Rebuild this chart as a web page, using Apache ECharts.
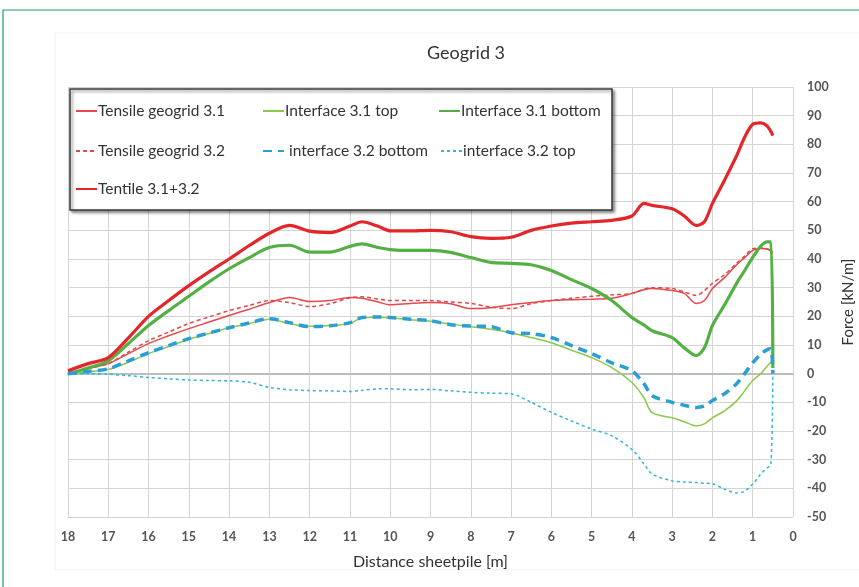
<!DOCTYPE html>
<html>
<head>
<meta charset="utf-8">
<script src="https://cdn.jsdelivr.net/npm/echarts@6/dist/echarts.min.js"></script>
<style>
html,body{margin:0;padding:0;background:#fff;}
#c{width:859px;height:587px;}
</style>
</head>
<body>
<div id="c"></div>
<script>
// Distance from sheetpile [m]
const distance = [18, 17.5, 17, 16.5, 16, 15.5, 15, 14.5, 14, 13.5, 13, 12.5, 12, 11.5, 11, 10.7, 10.3, 10, 9.5, 9, 8.5, 8, 7.5, 7, 6.5, 6, 5.5, 5, 4.5, 4, 3.7, 3.5, 3, 2.7, 2.4, 2.2, 2, 1.7, 1.4, 1.2, 1, 0.8, 0.65, 0.55, 0.5];

const tensile31 = [0, 1.8, 3.5, 7, 10.5, 13.2, 15.7, 18, 20.3, 22.5, 24.8, 26.6, 25.2, 25.5, 26.6, 26.3, 25, 24, 24.5, 24.8, 24.4, 22.7, 23, 24, 24.8, 25.5, 25.8, 26, 26.3, 28, 29.3, 29.7, 29, 28, 24.5, 25.5, 29.7, 33.5, 38, 40.5, 43, 43.7, 43.5, 42.8, 42];
const interface31top = [0, 0.7, 1.5, 4, 7, 9.5, 12, 14, 16, 17.5, 19, 17.5, 16.5, 16.8, 17.5, 19.5, 19.7, 19.5, 18.8, 18.3, 17.3, 16.4, 15.5, 14.3, 12.6, 10.8, 8.2, 5.6, 2.1, -3.1, -8.4, -13.6, -15.4, -16.8, -18.2, -17.5, -15.4, -13, -9.5, -6, -2.4, 0, 2.5, 4, 4.5];
const interface31bottom = [0, 2, 4.5, 10.5, 16.8, 22, 27, 32, 36.6, 40.5, 44, 44.8, 42.4, 42.4, 44.4, 45.3, 44, 43.3, 43, 43, 42.3, 40.5, 38.8, 38.5, 38, 36, 32.8, 29.7, 25.5, 19.6, 17, 15, 12.6, 9, 6.3, 9, 16.8, 24, 31.5, 36, 40.6, 44.5, 46, 46, 2];
const tensile32 = [0, 1.8, 3.5, 7.5, 11.5, 14.5, 17.5, 19.8, 22, 23.8, 25.5, 24.8, 23.4, 24.4, 26.5, 26.8, 26, 25.5, 25.5, 25.5, 25, 24.5, 23.2, 22.7, 24.4, 25.5, 26.3, 27, 27.5, 28, 29.5, 30, 29.7, 28.5, 27.3, 29, 31.5, 34.5, 38.5, 41, 43.6, 43.8, 43.6, 43, 42.3];
const interface32bottom = [0, 0.8, 1.7, 4.5, 7.3, 9.8, 12.2, 14.2, 16, 17.7, 19.2, 17.8, 16.4, 16.7, 17.8, 19.6, 19.8, 19.6, 19, 18.5, 17.1, 16.6, 16.4, 14.3, 14, 12.6, 9.8, 7, 3.8, 1, -3.5, -7.7, -10, -11, -11.8, -11.3, -9.4, -7, -3.5, 0, 3.8, 6.8, 8.3, 8.7, 0];
const interface32top = [0, 0, -0.2, -0.7, -1.3, -1.8, -2.2, -2.4, -2.5, -3, -4.8, -5.6, -5.9, -6, -6.2, -5.8, -5.3, -5.3, -5.6, -5.5, -6, -6.5, -6.8, -7, -10, -13.5, -16.5, -19.3, -21.7, -26.4, -31.5, -35, -37.4, -37.8, -38, -38.2, -38.4, -40.3, -41.6, -41, -38.5, -35, -33, -31.5, -1];
const tentileSum = [1, 3.5, 5.6, 12.5, 20, 25.5, 30.7, 35.5, 40, 44.7, 49, 51.7, 49.7, 49.2, 51.5, 53, 51.4, 49.8, 49.8, 50, 49.5, 47.8, 47.2, 47.6, 50, 51.5, 52.5, 53, 53.5, 55, 59.4, 58.7, 57.5, 55, 51.7, 53, 59.4, 67.5, 76, 82.5, 87, 87.5, 86.5, 84.5, 83];

const seriesNames = ['Tensile geogrid 3.1', 'Interface 3.1 top', 'Interface 3.1 bottom', 'Tensile geogrid 3.2', ' interface 3.2 bottom', 'interface 3.2 top', 'Tentile 3.1+3.2'];
const xTicks = {min: 0, max: 18, interval: 1};
const yTicks = {min: -50, max: 100, interval: 10};

const pair = arr => distance.map((d, i) => [d, arr[i]]);
const FONT = 'Lato';

const styles = [
  {data: tensile31, color: '#e8484b', width: 1.5, type: 'solid'},
  {data: interface31top, color: '#8cc84b', width: 1.5, type: 'solid'},
  {data: interface31bottom, color: '#55b044', width: 3.2, type: 'solid'},
  {data: tensile32, color: '#e0484b', width: 1.5, type: [4, 3]},
  {data: interface32bottom, color: '#2a9fd6', width: 3.5, type: [9, 6]},
  {data: interface32top, color: '#33b4da', width: 1.5, type: [3, 3]},
  {data: tentileSum, color: '#e4262a', width: 3.2, type: 'solid'}
];

const series = styles.map((s, i) => ({
  name: seriesNames[i],
  type: 'line',
  data: pair(s.data),
  symbol: 'none',
  smooth: 0.3,
  z: [3, 2, 4, 3, 5, 3, 6][i],
  lineStyle: {color: s.color, width: s.width, type: s.type},
  itemStyle: {color: s.color}
}));

const legendPos = [
  [75, 103], [262, 103], [438, 103],
  [75, 143], [262, 143], [440, 143],
  [75, 181]
];
const legends = seriesNames.map((n, i) => ({
  data: [n],
  left: legendPos[i][0],
  top: legendPos[i][1],
  orient: 'horizontal',
  z: 100,
  itemWidth: 21,
  itemHeight: 14,
  itemGap: 0,
  padding: 0,
  selectedMode: false,
  itemStyle: {opacity: 0},
  textStyle: {fontFamily: FONT, fontSize: 15.5, color: '#333', padding: [0, 0, 0, -4]}
}));

const chart = echarts.init(document.getElementById('c'), null, {renderer: 'canvas'});
chart.setOption({
  backgroundColor: '#fff',
  animation: false,
  title: {
    text: 'Geogrid 3',
    left: 461, top: 39, textAlign: 'center',
    textStyle: {fontFamily: FONT, fontSize: 18, fontWeight: 'normal', color: '#333'}
  },
  graphic: [
    {type: 'rect', shape: {x: 3, y: 10, width: 900, height: 620}, style: {fill: 'none', stroke: '#1aa35c', lineWidth: 1.2}, z: 0},
    {type: 'rect', shape: {x: 55, y: 33, width: 820, height: 537}, style: {fill: 'none', stroke: '#f0f0f0', lineWidth: 1}, z: 0},
    {type: 'rect', shape: {x: 70, y: 89, width: 542, height: 121},
      style: {fill: '#fff', stroke: '#3a3a3a', lineWidth: 1.5, shadowBlur: 3, shadowOffsetX: 2, shadowOffsetY: 2, shadowColor: 'rgba(0,0,0,0.45)'}, z: 50}
  ],
  legend: legends,
  grid: {left: 68, right: 66, top: 87, bottom: 70, containLabel: false, outerBoundsMode: 'none'},
  xAxis: {
    type: 'value', inverse: true,
    min: xTicks.min, max: xTicks.max, interval: xTicks.interval,
    name: 'Distance sheetpile [m]', nameLocation: 'middle', nameGap: 37,
    nameTextStyle: {fontFamily: FONT, fontSize: 16, color: '#333'},
    axisLine: {show: true, lineStyle: {color: '#bdbdbd', width: 2}},
    axisTick: {show: false},
    axisLabel: {fontFamily: FONT, fontSize: 12.5, fontWeight: 'bold', color: '#555', margin: 13},
    splitLine: {show: true, lineStyle: {color: '#d4d4d4', width: 1}}
  },
  yAxis: {
    type: 'value', position: 'right',
    min: yTicks.min, max: yTicks.max, interval: yTicks.interval,
    name: 'Force [kN/m]', nameLocation: 'middle', nameGap: 48, nameRotate: 90,
    nameTextStyle: {fontFamily: FONT, fontSize: 15, color: '#333'},
    axisLine: {show: false},
    axisTick: {show: false},
    axisLabel: {fontFamily: FONT, fontSize: 12.5, fontWeight: 'bold', color: '#555', margin: 14},
    splitLine: {show: true, lineStyle: {color: '#d4d4d4', width: 1}}
  },
  series: series
});
</script>
</body>
</html>
